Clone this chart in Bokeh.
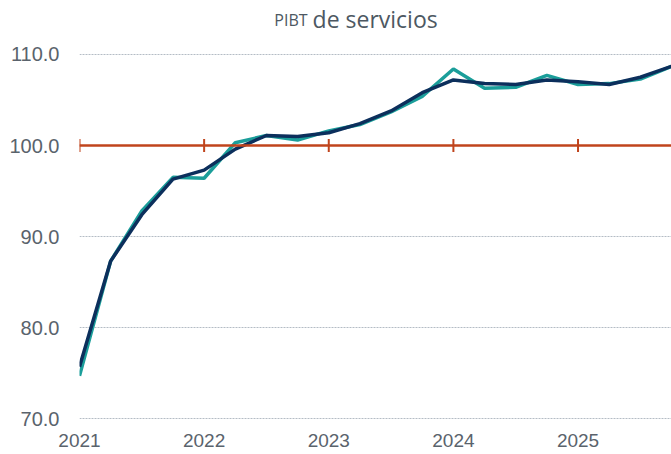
import math
from bokeh.plotting import figure
from bokeh.models import Range1d, Span, Label, FixedTicker, CustomJSTickFormatter
from bokeh.embed import file_html
from bokeh.resources import INLINE

# Quarterly periods 2021Q1 .. 2025Q4 (as decimal years)
quarters = [2021 + i * 0.25 for i in range(20)]

# PIBT de servicios (original series, teal)
pibt_original = [74.7, 87.3, 92.8, 96.5, 96.4, 100.3, 101.1, 100.6, 101.6, 102.3,
                 103.7, 105.4, 108.4, 106.3, 106.4, 107.7, 106.7, 106.8, 107.3, 108.7]
# Seasonally adjusted / trend series (navy)
pibt_trend = [75.7, 87.3, 92.4, 96.3, 97.3, 99.6, 101.1, 101.0, 101.4, 102.4,
              103.8, 105.8, 107.2, 106.8, 106.7, 107.2, 107.0, 106.7, 107.5, 108.7]

year_ticks = [2021, 2022, 2023, 2024, 2025]
y_ticks = [70, 80, 90, 100, 110]
base_level = 100

TEAL = "#1b9e9a"
NAVY = "#0c2f5c"
RED = "#c0441c"
GRAY = "#5a636c"

# frame spans the title area too (labels outside the frame are clipped)
p = figure(width=671, height=454, output_backend="svg", toolbar_location=None,
           x_range=Range1d(2021, 2025.75), y_range=Range1d(69.9, 115.93),
           min_border_left=79, min_border_right=0, min_border_top=0,
           min_border_bottom=35)
p.outline_line_color = None
p.background_fill_color = "white"

# grid
p.xgrid.grid_line_color = None
p.ygrid.ticker = FixedTicker(ticks=y_ticks)
p.ygrid.grid_line_color = "#b4bcc5"
p.ygrid.grid_line_dash = "2 1"
p.ygrid.grid_line_width = 1

# axes
p.yaxis.ticker = FixedTicker(ticks=y_ticks)
p.yaxis.formatter = CustomJSTickFormatter(code="return tick.toFixed(1);")
p.yaxis.axis_line_color = None
p.yaxis.major_tick_line_color = None
p.yaxis.minor_tick_line_color = None
p.yaxis.major_label_text_font = "Liberation Sans"
p.yaxis.major_label_text_font_size = "20px"
p.yaxis.major_label_text_color = GRAY
p.yaxis.major_label_standoff = 14

p.xaxis.ticker = FixedTicker(ticks=year_ticks)
p.xaxis.axis_line_color = None
p.xaxis.major_tick_line_color = None
p.xaxis.minor_tick_line_color = None
p.xaxis.major_label_text_font = "Liberation Sans"
p.xaxis.major_label_text_font_size = "19px"
p.xaxis.major_label_text_color = GRAY
p.xaxis.major_label_standoff = 8

# base line at 100 with year ticks
p.add_layout(Span(location=base_level, dimension="width", line_color=RED, line_width=2.5))
p.scatter(x=year_ticks, y=[base_level] * len(year_ticks), marker="dash", angle=math.pi / 2,
          size=13, line_color=RED, line_width=2)

# series
p.line(quarters, pibt_original, line_color=TEAL, line_width=3.5)
p.line(quarters, pibt_trend, line_color=NAVY, line_width=3.5)

# title (small caps acronym + text)
p.add_layout(Label(x=2022.83, y=113.75, text="PIBT", text_align="right",
                   text_baseline="alphabetic", text_font="Open Sans",
                   text_font_size="16px", text_color="#4d5862"))
p.add_layout(Label(x=2022.87, y=113.85, text="de servicios", text_align="left",
                   text_baseline="alphabetic", text_font="Open Sans",
                   text_font_size="23px", text_color="#4d5862"))

open("out.html", "w").write(file_html(p, INLINE))
